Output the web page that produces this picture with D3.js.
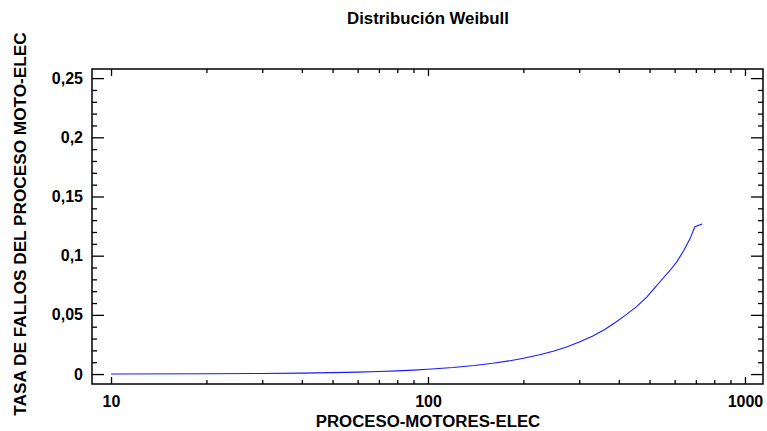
<!DOCTYPE html>
<html>
<head>
<meta charset="utf-8">
<script src="https://cdn.jsdelivr.net/npm/d3@7"></script>
<style>
  html, body { margin: 0; padding: 0; background: #fff; }
  svg { display: block; }
  text { font-family: "Liberation Sans", Arial, Helvetica, sans-serif; font-weight: bold; fill: #000; }
</style>
</head>
<body>
<svg id="chart" width="767" height="431"></svg>
<script>
// Weibull hazard rate against the process variable
const xValues = [10, 20, 30, 40, 50, 60, 70, 80, 90, 100, 120, 140, 160, 180, 200, 225, 250, 275,
                 300, 330, 360, 390, 420, 455, 490, 520, 550, 580, 610, 640, 670, 695, 733];
const hazard  = [0.0001, 0.0003, 0.0005, 0.0008, 0.0012, 0.0016, 0.0021, 0.0027, 0.0033, 0.0040,
                 0.0055, 0.0072, 0.0091, 0.0111, 0.0133, 0.0163, 0.0195, 0.0230, 0.0270, 0.0320,
                 0.0375, 0.0435, 0.0498, 0.0570, 0.0650, 0.0730, 0.0805, 0.0875, 0.0950, 0.1040,
                 0.1140, 0.1244, 0.1267];
const xMajorTicks = [10, 100, 1000];
const yMajorTicks = [0, 0.05, 0.1, 0.15, 0.2, 0.25];
const yTickLabels = ["0", "0,05", "0,1", "0,15", "0,2", "0,25"];

const titleText = "Distribución Weibull";
const xTitle = "PROCESO-MOTORES-ELEC";
const yTitle = "TASA DE FALLOS DEL PROCESO MOTO-ELEC";

const svg = d3.select("#chart");
const plotL = 92, plotR = 763, plotT = 69, plotB = 384;

const x = d3.scaleLog().domain([8.71, 1140]).range([plotL, plotR]);
const y = d3.scaleLinear().domain([-0.0084, 0.2577]).range([plotB, plotT]);

// minor ticks: 2..9 of each decade, and every 0.01 on y
const xMinor = [];
[10, 100].forEach(d => { for (let k = 2; k <= 9; k++) xMinor.push(d * k); });
const yMinor = d3.range(0, 26).map(i => i / 100).filter(v => Math.round(v * 100) % 5 !== 0);

const g = svg.append("g");

// curve
const line = d3.line().x((d, i) => x(xValues[i])).y(d => y(d));
g.append("path")
  .datum(hazard)
  .attr("d", line)
  .attr("fill", "none")
  .attr("stroke", "#1a1aff")
  .attr("stroke-width", 1.1);

// frame
g.append("rect")
  .attr("x", plotL).attr("y", plotT)
  .attr("width", plotR - plotL).attr("height", plotB - plotT)
  .attr("fill", "none").attr("stroke", "#000").attr("stroke-width", 1.5);

// axes with inward ticks on all four sides
const axB = d3.axisBottom(x).tickValues(xMajorTicks).tickSize(-7).tickFormat(d3.format("d")).tickPadding(12);
const axBm = d3.axisBottom(x).tickValues(xMinor).tickSize(-4).tickFormat("");
const axT = d3.axisTop(x).tickValues(xMajorTicks).tickSize(-7).tickFormat("");
const axTm = d3.axisTop(x).tickValues(xMinor).tickSize(-4).tickFormat("");
const axL = d3.axisLeft(y).tickValues(yMajorTicks).tickSize(-12)
  .tickFormat((d, i) => yTickLabels[i]).tickPadding(9);
const axLm = d3.axisLeft(y).tickValues(yMinor).tickSize(-5).tickFormat("");
const axR = d3.axisRight(y).tickValues(yMajorTicks).tickSize(-12).tickFormat("");
const axRm = d3.axisRight(y).tickValues(yMinor).tickSize(-5).tickFormat("");

function draw(ax, tx, ty) {
  const a = g.append("g").attr("transform", `translate(${tx},${ty})`).call(ax);
  a.select(".domain").remove();
  a.selectAll(".tick line").attr("stroke", "#000").attr("stroke-width", 1.3);
  a.selectAll(".tick text").attr("font-size", 16).attr("font-family", null);
  return a;
}
draw(axB, 0, plotB);
draw(axBm, 0, plotB);
draw(axT, 0, plotT);
draw(axTm, 0, plotT);
draw(axL, plotL, 0);
draw(axLm, plotL, 0);
draw(axR, plotR, 0);
draw(axRm, plotR, 0);

// titles
svg.append("text").attr("x", 428).attr("y", 24).attr("text-anchor", "middle")
  .attr("font-size", 16.8).text(titleText);
svg.append("text").attr("x", 428).attr("y", 427).attr("text-anchor", "middle")
  .attr("font-size", 16.8).text(xTitle);
svg.append("text").attr("transform", "translate(26,224) rotate(-90)").attr("text-anchor", "middle")
  .attr("font-size", 17.2).text(yTitle);
</script>
</body>
</html>
